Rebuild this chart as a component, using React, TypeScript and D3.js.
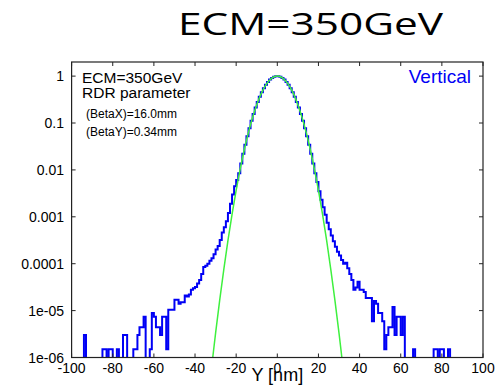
import React from "react";
import * as d3 from "d3";

// ---- data ----
// histogram: [left edge of 1 nm bin, normalized value]; bins not listed are empty
const histBins: [number, number][] = [
  [-94, 3e-6],
  [-85, 1.5e-6], [-84, 1.5e-6], [-82, 1.5e-6], [-81, 1.5e-6],
  [-78, 1.5e-6], [-75, 3e-6], [-74, 3e-6],
  [-70, 1.5e-6], [-69, 1.5e-6], [-68, 3e-6], [-67, 4.4e-6], [-66, 4.4e-6], [-65, 7.4e-6],
  [-62, 1.5e-6], [-61, 8.9e-6], [-60, 7.4e-6], [-59, 4.4e-6], [-58, 4.4e-6], [-57, 3e-6],
  [-56, 7.4e-6], [-55, 7.4e-6], [-54, 1.5e-6], [-53, 1.04e-5], [-52, 1.04e-5], [-51, 1.04e-5],
  [-50, 1.7e-5], [-49, 1.7e-5], [-48, 1.4e-5], [-47, 1.5e-5], [-46, 1.5e-5], [-45, 2.1e-5],
  [-44, 2.0e-5], [-43, 2.2e-5], [-42, 2.8e-5], [-41, 3.0e-5], [-40, 3.2e-5], [-39, 3.8e-5],
  [-38, 4.5e-5], [-37, 6.0e-5], [-36, 8.5e-5], [-35, 9.0e-5], [-34, 1.0e-4], [-33, 1.15e-4],
  [-32, 1.3e-4], [-31, 1.6e-4], [-30, 2.0e-4], [-29, 2.4e-4], [-28, 3.2e-4], [-27, 4.6e-4],
  [-26, 6.0e-4], [-25, 8.0e-4], [-24, 1.2e-3], [-23, 1.9e-3], [-22, 3.0e-3], [-21, 4.5e-3],
  [-20, 6.1e-3], [-19, 8.5e-3], [-18, 0.0137], [-17, 0.022], [-16, 0.0344], [-15, 0.0524],
  [-14, 0.0775], [-13, 0.112], [-12, 0.156], [-11, 0.213], [-10, 0.282], [-9, 0.363],
  [-8, 0.454], [-7, 0.553], [-6, 0.654], [-5, 0.753], [-4, 0.842], [-3, 0.916], [-2, 0.969],
  [-1, 0.997], [0, 0.997], [1, 0.969], [2, 0.916], [3, 0.842], [4, 0.753], [5, 0.654],
  [6, 0.553], [7, 0.454], [8, 0.363], [9, 0.282], [10, 0.213], [11, 0.156], [12, 0.112],
  [13, 0.0775], [14, 0.0524], [15, 0.0344], [16, 0.022], [17, 0.0137], [18, 8.5e-3],
  [19, 5.5e-3], [20, 3.5e-3], [21, 2.3e-3], [22, 1.6e-3], [23, 1.1e-3], [24, 7.5e-4],
  [25, 5.4e-4], [26, 4.0e-4], [27, 3.0e-4], [28, 2.3e-4], [29, 1.8e-4], [30, 1.5e-4],
  [31, 1.2e-4], [32, 1.0e-4], [33, 1.05e-4], [34, 8.0e-5], [35, 6.0e-5], [36, 4.5e-5],
  [37, 2.8e-5], [38, 3.1e-5], [39, 4.1e-5], [40, 2.8e-5], [41, 2.8e-5], [42, 2.5e-5],
  [43, 1.85e-5], [44, 1.85e-5], [45, 1.85e-5], [46, 5.9e-6], [47, 1.6e-5], [48, 1.4e-5],
  [49, 8.9e-6], [50, 8.9e-6], [51, 5.9e-6], [52, 1.5e-6], [53, 3e-6], [54, 4.4e-6],
  [55, 4.4e-6], [56, 1.2e-5], [57, 3e-6], [58, 7.4e-6], [59, 7.4e-6], [60, 3e-6],
  [61, 7.4e-6], [66, 1.5e-6], [76, 1.5e-6], [77, 1.5e-6], [79, 1.5e-6], [80, 1.5e-6],
  [83, 1.5e-6],
];

// Gaussian fit curve (green), sampled every 2 nm
const fitX = [-32, -30, -28, -26, -24, -22, -20, -18, -16, -14, -12, -10, -8, -6, -4, -2, 0,
  2, 4, 6, 8, 10, 12, 14, 16, 18, 20, 22, 24, 26, 28, 30, 32];
const fitY = [5.8e-7, 3.3e-6, 1.67e-5, 7.6e-5, 3.09e-4, 1.125e-3, 3.66e-3, 0.0106, 0.0276,
  0.0639, 0.1326, 0.2459, 0.4074, 0.6035, 0.7989, 0.9454, 1,
  0.9454, 0.7989, 0.6035, 0.4074, 0.2459, 0.1326, 0.0639, 0.0276, 0.0106, 3.66e-3,
  1.125e-3, 3.09e-4, 7.6e-5, 1.67e-5, 3.3e-6, 5.8e-7];

const xTicks = [-100, -80, -60, -40, -20, 0, 20, 40, 60, 80, 100];
const yTicks = [1, 0.1, 0.01, 0.001, 0.0001, 1e-5, 1e-6];
const yTickLabels = ["1", "0.1", "0.01", "0.001", "0.0001", "1e-05", "1e-06"];

const W = 497;
const H = 392;
const L = 71.6, R = 483, T = 62, B = 357.5;
const FONT = "'Liberation Sans', Arial, Helvetica, sans-serif";

export default function App() {
  const x = d3.scaleLinear().domain([-100, 100]).range([L, R]);
  const y = d3.scaleLog().domain([1e-6, 2]).range([B, T]);

  const valueMap = new Map<number, number>(histBins);
  const steps: [number, number][] = [];
  for (let k = -100; k < 100; k++) steps.push([k, valueMap.get(k) ?? 0]);
  steps.push([100, 0]);
  const yv = (v: number) => (v > 0 ? y(v) : B + 4);
  const histPath = d3
    .line<[number, number]>()
    .x((d) => x(d[0]))
    .y((d) => yv(d[1]))
    .curve(d3.curveStepAfter)(steps) as string;

  const fitPts: [number, number][] = fitX.map((v, i) => [v, fitY[i]]);
  const fitPath = d3
    .line<[number, number]>()
    .x((d) => x(d[0]))
    .y((d) => y(d[1]))
    .curve(d3.curveCatmullRom)(fitPts) as string;

  const tick = 4;
  const axisColor = "#222";

  return (
    <svg
      width={W}
      height={H}
      style={{ position: "fixed", left: 0, top: 0, background: "#fff" }}
      xmlns="http://www.w3.org/2000/svg"
    >
      <rect x={0} y={0} width={W} height={H} fill="#fff" />
      <defs>
        <clipPath id="plotclip">
          <rect x={L} y={T} width={R - L} height={B - T} />
        </clipPath>
      </defs>

      <text
        x={178}
        y={35}
        fontFamily="'Open Sans', Lato, sans-serif"
        fontSize={31}
        textLength={265}
        lengthAdjust="spacingAndGlyphs"
        fill="#000"
      >
        ECM=350GeV
      </text>

      <g clipPath="url(#plotclip)">
        <path d={histPath} fill="none" stroke="#0000f5" strokeWidth={2} strokeLinejoin="miter" />
        <path d={fitPath} fill="none" stroke="#3ef03e" strokeWidth={1.5} />
      </g>

      {/* frame */}
      <rect x={L} y={T} width={R - L} height={B - T} fill="none" stroke={axisColor} strokeWidth={1.2} />

      {/* x ticks */}
      {xTicks.map((t) => (
        <g key={"x" + t}>
          <line x1={x(t)} x2={x(t)} y1={B} y2={B - tick} stroke={axisColor} strokeWidth={1} />
          <line x1={x(t)} x2={x(t)} y1={T} y2={T + tick} stroke={axisColor} strokeWidth={1} />
          <text x={x(t)} y={372.5} textAnchor="middle" fontFamily={FONT} fontSize={14} fill="#000">
            {t}
          </text>
        </g>
      ))}

      {/* y ticks */}
      {yTicks.map((t, i) => (
        <g key={"y" + t}>
          <line x1={L} x2={L + tick} y1={y(t)} y2={y(t)} stroke={axisColor} strokeWidth={1} />
          <line x1={R} x2={R - tick} y1={y(t)} y2={y(t)} stroke={axisColor} strokeWidth={1} />
          <text x={64} y={y(t) + 5} textAnchor="end" fontFamily={FONT} fontSize={14} fill="#000">
            {yTickLabels[i]}
          </text>
        </g>
      ))}

      <text x={x(0)} y={381} textAnchor="middle" fontFamily={FONT} fontSize={18} fill="#000">
        Y [nm]
      </text>

      <text x={82} y={82.5} fontFamily={FONT} fontSize={15.5} fill="#000">ECM=350GeV</text>
      <text x={82} y={98} fontFamily={FONT} fontSize={15.5} fill="#000">RDR parameter</text>
      <text x={86} y={118} fontFamily={FONT} fontSize={12} fill="#000">(BetaX)=16.0mm</text>
      <text x={86} y={136} fontFamily={FONT} fontSize={12} fill="#000">(BetaY)=0.34mm</text>

      <text x={471} y={82.5} textAnchor="end" fontFamily={FONT} fontSize={19} fill="#0000f5">
        Vertical
      </text>
    </svg>
  );
}
